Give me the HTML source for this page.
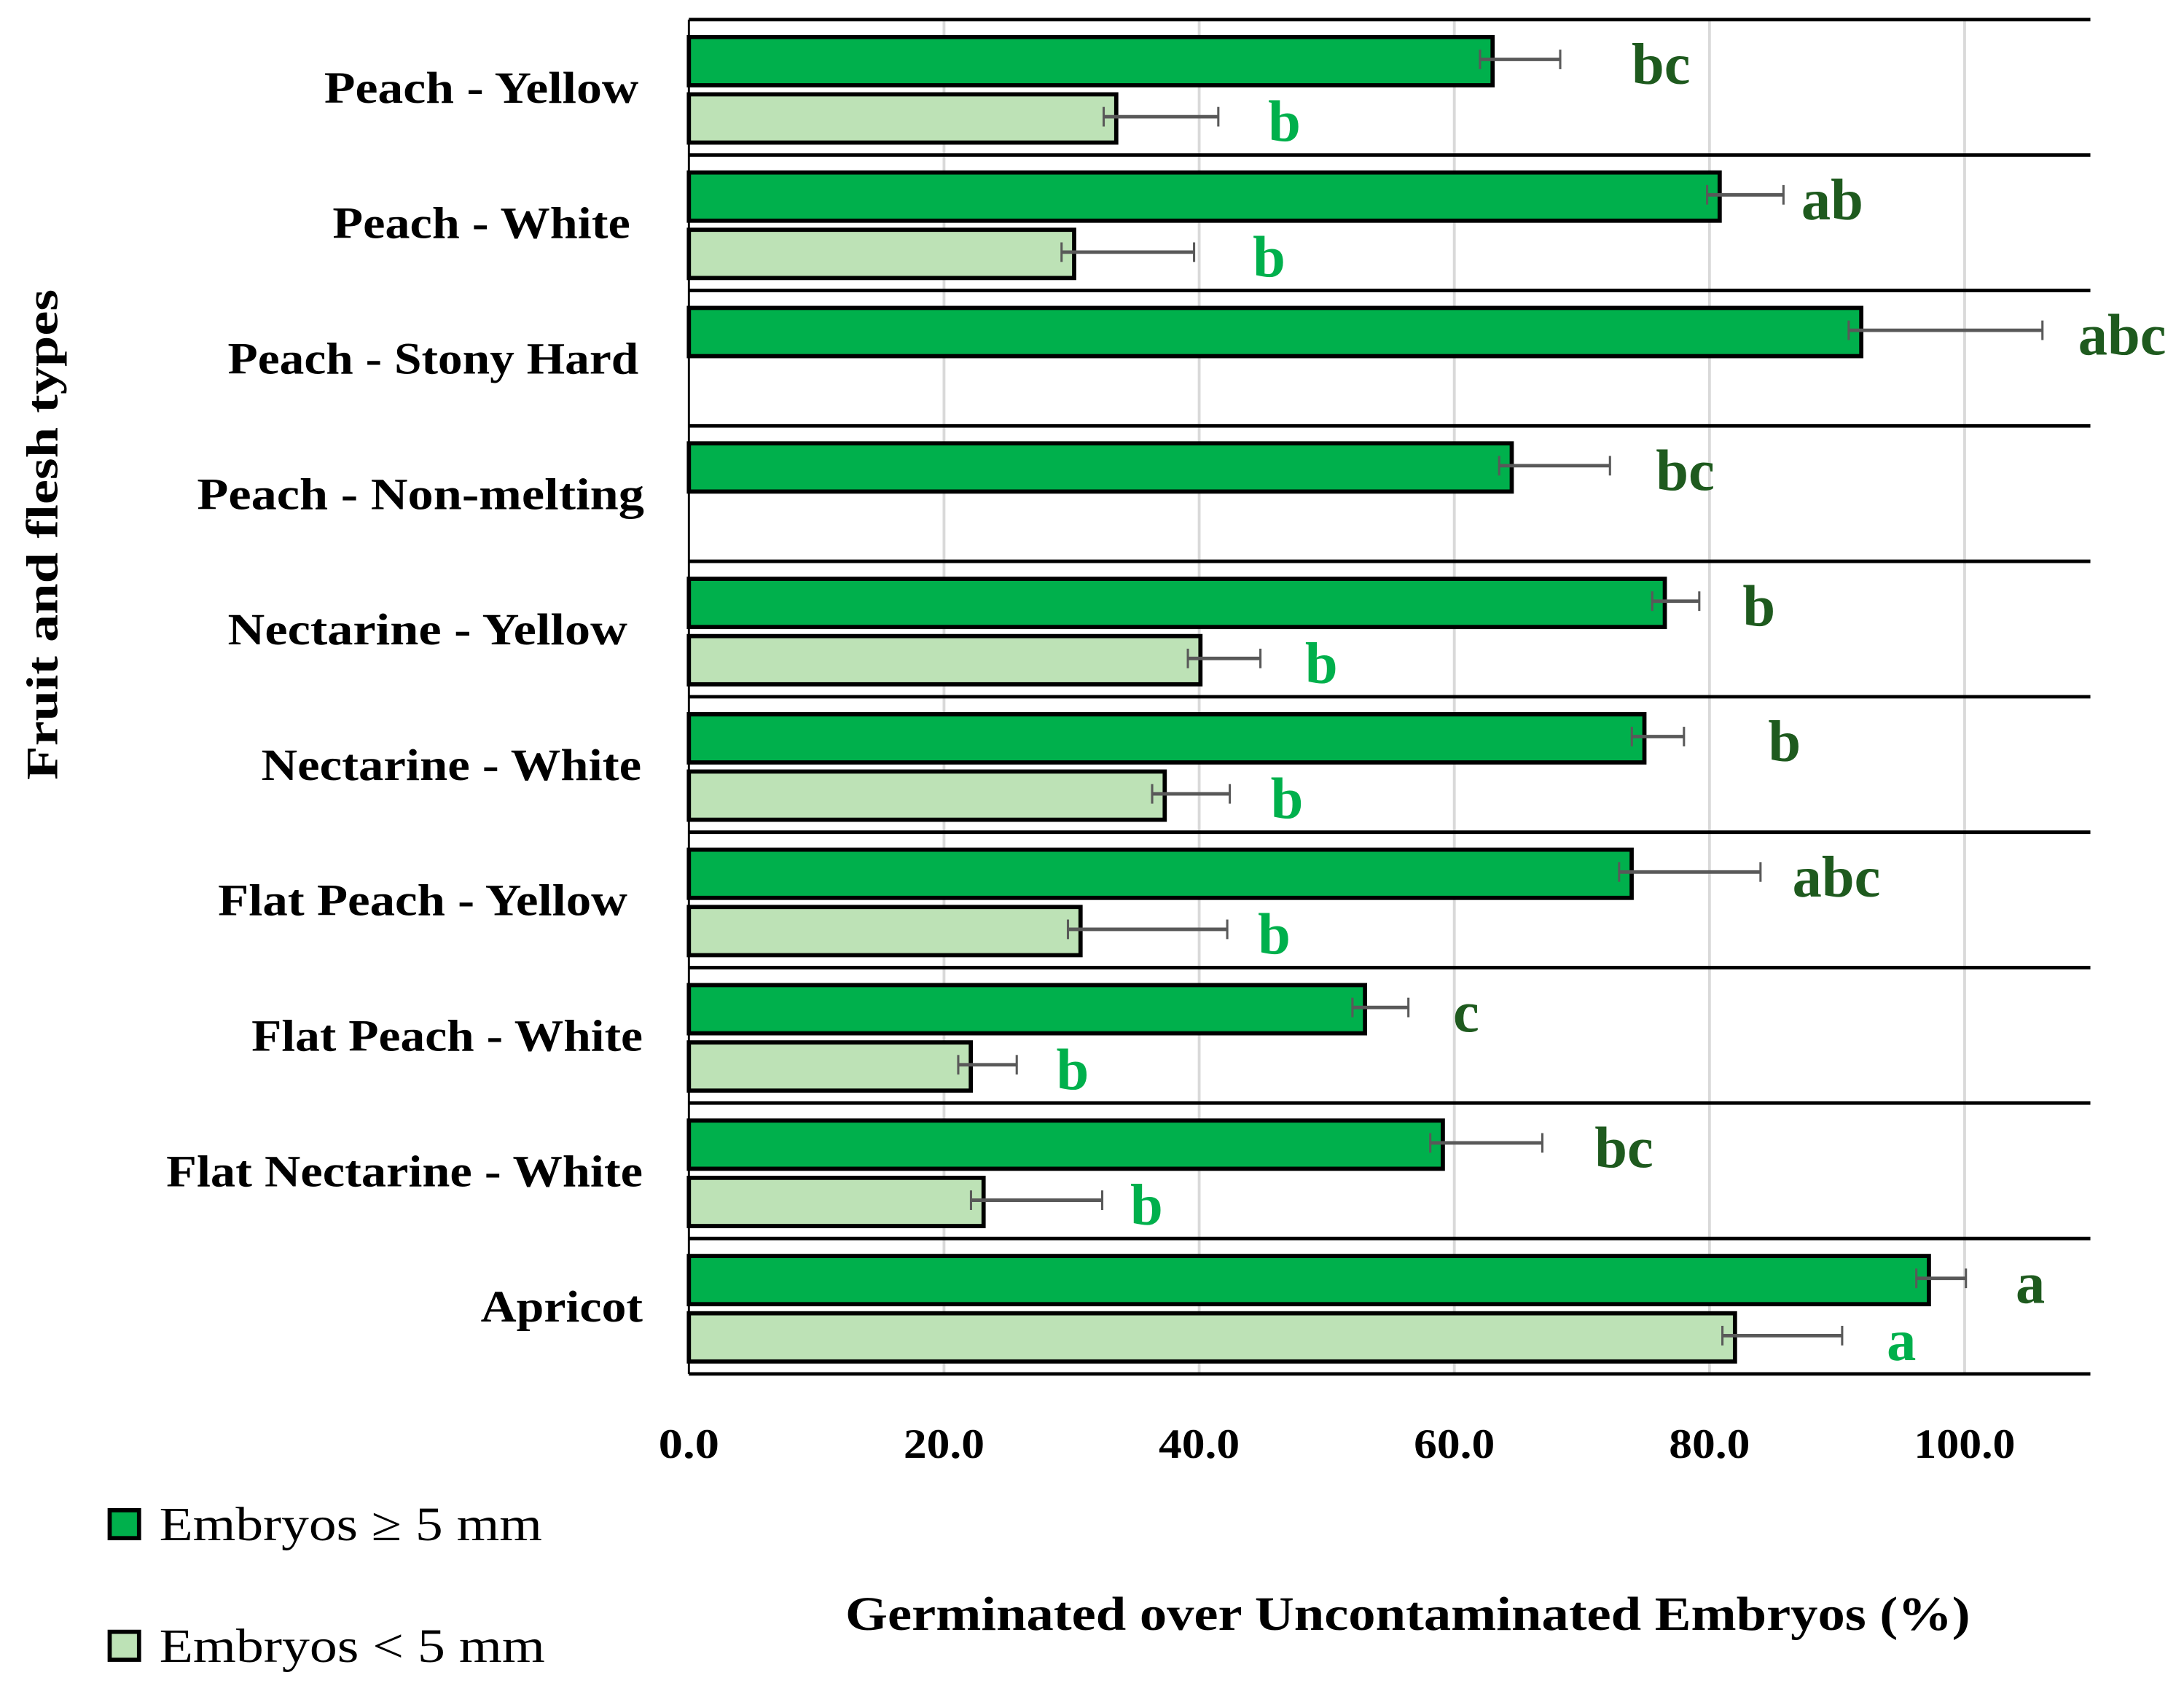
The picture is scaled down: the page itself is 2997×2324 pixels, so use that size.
<!DOCTYPE html>
<html><head><meta charset="utf-8"><style>
html,body{margin:0;padding:0;background:#fff;}
svg{display:block;}
text{font-family:"Liberation Serif",serif;}
</style></head><body>
<svg id="chart" width="2997" height="2324" viewBox="0 0 1563 1212" preserveAspectRatio="none" xmlns="http://www.w3.org/2000/svg"></svg>
<script>
const categories = ["Peach - Yellow","Peach - White","Peach - Stony Hard","Peach - Non-melting","Nectarine - Yellow","Nectarine - White","Flat Peach - Yellow","Flat Peach - White","Flat Nectarine - White","Apricot"];
const largeValues = [63.0,80.8,91.9,64.5,76.5,74.9,73.9,53.0,59.1,97.2];
const largeErrors = [5.3,5.0,14.2,7.7,2.7,3.1,10.1,3.4,7.8,2.9];
const largeLetters = ["bc","ab","abc","bc","b","b","abc","c","bc","a"];
const largeLetterPos = [73.9,87.2,108.9,75.8,82.6,84.6,86.5,59.9,71.0,104.0];
const smallValues = [33.5,30.2,null,null,40.1,37.3,30.7,22.1,23.1,82.0];
const smallErrors = [8.0,9.4,null,null,4.7,5.1,11.5,3.6,9.3,8.4];
const smallLetters = ["b","b","","","b","b","b","b","b","a"];
const smallLetterPos = [45.4,44.2,null,null,48.3,45.6,44.6,28.8,34.6,93.9];
const ticks = [0,20,40,60,80,100];
const tickLabels = ["0.0","20.0","40.0","60.0","80.0","100.0"];

const svg = document.getElementById('chart');
const NS = "http://www.w3.org/2000/svg";
const X0 = 493, X1 = 1496, TOP = 14, BOT = 983;
const pxPer = (1406 - 493) / 100;
const xs = v => X0 + v * pxPer;
const bandH = (BOT - TOP) / categories.length;
const bandY = i => TOP + i * bandH;
// label layout (start x, width) in display px
const labelLayout = [[232,225],[238,213],[163,294],[141,320],[163,286],[187,272],[156,293],[180,280],[119,341],[344,116]];

function mk(tag, attrs, parent) {
  const e = document.createElementNS(NS, tag);
  for (const k in attrs) e.setAttribute(k, attrs[k]);
  (parent || svg).appendChild(e);
  return e;
}

ticks.forEach((t) => {
  if (t === 0) return;
  const g = mk('line', {x1: xs(t), x2: xs(t), y1: TOP, y2: BOT, stroke: '#d9d9d9', 'stroke-width': 2});
  
  
});
ticks.forEach((t, i) => {
  const w = tickLabels[i].length * 14.5;
  const tl = mk('text', {x: xs(t) - w / 2, y: 1043, 'font-size': 30, 'font-weight': 'bold', fill: '#000', textLength: w, lengthAdjust: 'spacingAndGlyphs'});
  tl.textContent = tickLabels[i];
  
  
});

function errBar(v, e, yc, name) {
  const g = mk('g', {});
  
  
  const a = xs(v) - 9, b = xs(v + e);
  mk('line', {x1: a, x2: b, y1: yc, y2: yc, stroke: '#595959', 'stroke-width': 2.5}, g);
  mk('line', {x1: a, x2: a, y1: yc - 7, y2: yc + 7, stroke: '#595959', 'stroke-width': 1.6}, g);
  mk('line', {x1: b, x2: b, y1: yc - 7, y2: yc + 7, stroke: '#595959', 'stroke-width': 1.6}, g);
}

categories.forEach((c, i) => {
  const y = bandY(i);
  const sep = mk('line', {x1: X0, x2: X1, y1: y, y2: y, stroke: '#000', 'stroke-width': 2.5});
  
  
  const lab = mk('text', {x: labelLayout[i][0], y: y + bandH / 2 + 11, 'font-size': 32, 'font-weight': 'bold', fill: '#000', textLength: labelLayout[i][1], lengthAdjust: 'spacingAndGlyphs'});
  lab.textContent = c;
  
  

  const b1 = mk('rect', {x: X0, y: y + 12.5, width: xs(largeValues[i]) - X0, height: 34.5, fill: '#00b04c', stroke: '#000', 'stroke-width': 3});
  
  
  errBar(largeValues[i], largeErrors[i], y + 28.5, 'error-bar-large');
  const l1 = mk('text', {x: xs(largeLetterPos[i]), y: y + 46, 'font-size': 42, 'font-weight': 'bold', fill: '#1e5a1e'});
  l1.textContent = largeLetters[i];
  
  

  if (smallValues[i] !== null) {
    const b2 = mk('rect', {x: X0, y: y + 53.5, width: xs(smallValues[i]) - X0, height: 34.5, fill: '#bde2b6', stroke: '#000', 'stroke-width': 3});
    
    
    errBar(smallValues[i], smallErrors[i], y + 69.5, 'error-bar-small');
    const l2 = mk('text', {x: xs(smallLetterPos[i]), y: y + 87, 'font-size': 42, 'font-weight': 'bold', fill: '#00b04c'});
    l2.textContent = smallLetters[i];
    
    
  }
});
const bl = mk('line', {x1: X0, x2: X1, y1: BOT, y2: BOT, stroke: '#000', 'stroke-width': 2.5});


const yl = mk('line', {x1: X0, x2: X0, y1: TOP, y2: BOT, stroke: '#000', 'stroke-width': 1.5});



const yt = mk('text', {x: -175, y: 0, transform: 'translate(41,383) rotate(-90)', 'font-size': 32, 'font-weight': 'bold', fill: '#000', textLength: 351, lengthAdjust: 'spacingAndGlyphs'});
yt.textContent = 'Fruit and flesh types';



const xt = mk('text', {x: 605, y: 1166, 'font-size': 34, 'font-weight': 'bold', fill: '#000', textLength: 805, lengthAdjust: 'spacingAndGlyphs'});
xt.textContent = 'Germinated over Uncontaminated Embryos (%)';



const legend = [['Embryos \u2265 5 mm', '#00b04c', 1079, 274], ['Embryos < 5 mm', '#bde2b6', 1166, 276]];
legend.forEach(([t, col, y, w]) => {
  const g = mk('g', {});
  
  
  mk('rect', {x: 78.5, y: y + 1.5, width: 21, height: 20, fill: col, stroke: '#000', 'stroke-width': 3}, g);
  const tx = mk('text', {x: 114, y: y + 23, 'font-size': 34, fill: '#000', textLength: w, lengthAdjust: 'spacingAndGlyphs'}, g);
  tx.textContent = t;
});
</script>
</body></html>
